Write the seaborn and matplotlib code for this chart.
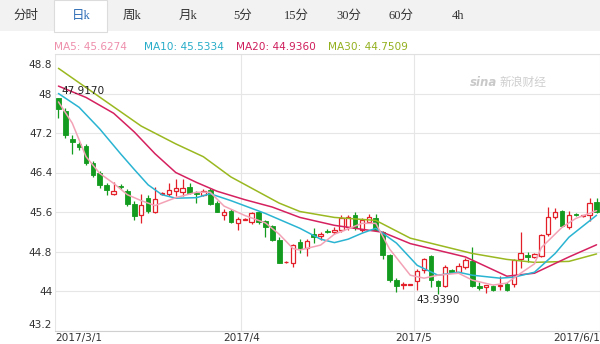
import numpy as np
import pandas as pd
import matplotlib
matplotlib.use("Agg")
import matplotlib.pyplot as plt
import seaborn as sns
from matplotlib.patches import Rectangle
from matplotlib.transforms import ScaledTranslation

# Trading days: Mon-Sat from 2017-03-01 to 2017-05-31
dates = [d for d in pd.date_range("2017-03-01", "2017-05-31") if d.weekday() != 6]

opens = [47.90, 47.65, 47.08, 46.98, 46.94, 46.60, 46.38, 46.14, 45.97, 46.13,
         46.03, 45.77, 45.53, 45.89, 45.59, 45.96, 45.96, 46.03, 46.01, 46.11,
         45.99, 45.95, 46.05, 45.79, 45.53, 45.63, 45.37, 45.44, 45.39, 45.59,
         45.41, 45.31, 45.04, 44.58, 44.56, 44.99, 44.88, 45.16, 45.11, 45.22,
         45.19, 45.23, 45.29, 45.53, 45.24, 45.39, 45.48, 45.19, 44.72, 44.23,
         44.12, 44.13, 44.21, 44.42, 44.70, 44.20, 44.10, 44.42, 44.39, 44.49,
         44.60, 44.10, 44.08, 44.10, 44.11, 44.15, 44.15, 44.64, 44.72, 44.69,
         44.70, 45.16, 45.50, 45.63, 45.29, 45.56, 45.52, 45.53, 45.80]
highs = [47.917, 47.71, 47.16, 47.02, 46.98, 46.64, 46.44, 46.18, 46.21, 46.16,
         46.07, 45.83, 45.97, 45.95, 46.11, 46.00, 46.19, 46.26, 46.26, 46.19,
         46.03, 46.07, 46.09, 45.83, 45.67, 45.67, 45.49, 45.47, 45.61, 45.63,
         45.43, 45.33, 45.09, 44.60, 44.95, 45.05, 45.06, 45.27, 45.19, 45.25,
         45.29, 45.53, 45.53, 45.59, 45.47, 45.55, 45.55, 45.21, 44.74, 44.27,
         44.19, 44.15, 44.44, 44.66, 44.72, 44.22, 44.52, 44.44, 44.56, 44.66,
         44.89, 44.19, 44.12, 44.12, 44.30, 44.19, 44.64, 45.19, 44.79, 44.76,
         45.15, 45.70, 45.69, 45.65, 45.63, 45.58, 45.54, 45.88, 45.88]
lows = [47.51, 47.10, 46.78, 46.86, 46.56, 46.30, 46.08, 45.95, 45.95, 46.06,
        45.73, 45.43, 45.37, 45.57, 45.57, 45.94, 45.93, 45.93, 45.93, 45.97,
        45.79, 45.93, 45.75, 45.59, 45.43, 45.37, 45.23, 45.43, 45.35, 45.35,
        45.09, 45.01, 44.56, 44.56, 44.48, 44.76, 44.70, 44.97, 45.03, 45.17,
        45.16, 45.19, 45.23, 45.23, 45.19, 45.37, 45.21, 44.64, 44.19, 43.98,
        44.05, 44.12, 44.03, 44.37, 44.08, 43.939, 44.08, 44.37, 44.36, 44.44,
        44.08, 44.02, 43.96, 44.01, 44.03, 44.00, 44.08, 44.46, 44.59, 44.67,
        44.68, 45.11, 45.46, 45.29, 45.26, 45.51, 45.50, 45.42, 45.57]
closes = [47.69, 47.16, 47.02, 46.92, 46.60, 46.34, 46.14, 46.04, 46.03, 46.10,
          45.77, 45.51, 45.75, 45.63, 45.87, 45.98, 46.05, 46.09, 46.09, 45.99,
          45.97, 46.03, 45.77, 45.61, 45.61, 45.39, 45.45, 45.46, 45.57, 45.39,
          45.29, 45.03, 44.56, 44.59, 44.93, 44.87, 45.02, 45.10, 45.15, 45.19,
          45.23, 45.48, 45.50, 45.28, 45.43, 45.50, 45.23, 44.72, 44.22, 44.10,
          44.15, 44.14, 44.41, 44.64, 44.23, 44.10, 44.48, 44.39, 44.50, 44.62,
          44.10, 44.06, 44.12, 44.03, 44.13, 44.02, 44.62, 44.76, 44.68, 44.74,
          45.13, 45.50, 45.60, 45.31, 45.54, 45.53, 45.53, 45.78, 45.60]

# Moving averages, read at selected trading-day positions
ma5_idx = [0, 2, 4, 6, 8, 10, 12, 14, 17, 20, 22, 24, 27, 30, 32, 34, 35, 38, 40,
           44, 46, 48, 51, 53, 55, 58, 60, 63, 65, 67, 69, 70, 73, 75, 78]
ma5_val = [47.83, 47.40, 46.72, 46.38, 46.18, 45.95, 45.83, 45.73, 45.89, 46.00,
           46.00, 45.72, 45.53, 45.38, 45.15, 44.86, 44.83, 44.93, 45.15, 45.37,
           45.37, 44.85, 44.32, 44.26, 44.32, 44.36, 44.22, 44.12, 44.16, 44.36,
           44.55, 44.88, 45.29, 45.47, 45.6274]
ma10_idx = [0, 3, 6, 9, 11, 13, 15, 17, 20, 22, 25, 30, 35, 38, 40, 42, 44, 46, 49,
            52, 55, 58, 60, 64, 66, 69, 72, 74, 78]
ma10_val = [48.00, 47.72, 47.28, 46.78, 46.46, 46.15, 45.95, 45.88, 45.89, 45.97,
            45.83, 45.57, 45.27, 45.05, 44.98, 45.05, 45.17, 45.27, 44.97, 44.52,
            44.32, 44.38, 44.32, 44.26, 44.28, 44.38, 44.76, 45.09, 45.5334]
ma20_idx = [0, 4, 8, 11, 14, 17, 20, 23, 27, 31, 35, 40, 47, 51, 59, 65, 69, 74, 78]
ma20_val = [48.15, 47.92, 47.60, 47.22, 46.78, 46.40, 46.20, 46.02, 45.85, 45.70,
            45.49, 45.33, 45.19, 44.96, 44.69, 44.30, 44.36, 44.69, 44.9360]
ma30_idx = [0, 12, 17, 21, 25, 32, 35, 40, 46, 51, 60, 65, 69, 74, 78]
ma30_val = [48.51, 47.34, 46.98, 46.72, 46.31, 45.78, 45.61, 45.49, 45.43, 45.07,
            44.76, 44.64, 44.58, 44.60, 44.7509]

y_ticks = [43.2, 44, 44.8, 45.6, 46.4, 47.2, 48, 48.8]
tabs = ["分时", "日k", "周k", "月k", "5分", "15分", "30分", "60分", "4h"]
tab_x = [26, 81, 132, 188, 243, 296, 349, 401, 458]

ma_colors = {"MA5": "#f3a2b6", "MA10": "#2ab4d2", "MA20": "#d5215f", "MA30": "#9ab820"}
ma_text_colors = {"MA5": "#ee8fac", "MA10": "#26acc8", "MA20": "#cf1e5c", "MA30": "#93b01e"}
UP, DOWN = "#e3202a", "#139b1f"

sns.set_theme(style="white")
plt.rcParams["font.family"] = ["DejaVu Sans", "Noto Sans CJK SC"]

W, H = 600, 344
fig = plt.figure(figsize=(W / 100, H / 100), dpi=100)
fig.patch.set_facecolor("white")

# Tab bar
fig.patches.append(Rectangle((0, 1 - 31 / H), 1, 31 / H, transform=fig.transFigure,
                             facecolor="#f2f2f2", edgecolor="none", zorder=0))
fig.patches.append(Rectangle((54 / W, 1 - 32 / H), 53 / W, 32 / H, transform=fig.transFigure,
                             facecolor="white", edgecolor="#dcdcdc", lw=0.8, zorder=1))
for name, x in zip(tabs, tab_x):
    fig.text(x / W, 1 - 16 / H, name, ha="center", va="center", fontsize=9,
             color="#2d6cb5" if name == "日k" else "#333333",
             family=["Liberation Serif", "Noto Sans CJK SC"])

ax = fig.add_axes([55 / W, 1 - 330.5 / H, 545 / W, (330.5 - 54) / H])
ax.set_facecolor("white")

x = np.arange(len(dates))
o, hi, lo, c = map(np.asarray, (opens, highs, lows, closes))
up = c >= o
colors = np.where(up, UP, DOWN)

# Wicks, then bodies (up candles hollow)
ax.vlines(x, lo, hi, colors=colors, lw=0.9, zorder=3)
body_lo = np.minimum(o, c)
body_h = np.maximum(np.abs(c - o), 0.012)
ax.bar(x[~up], body_h[~up], bottom=body_lo[~up], width=0.68, color=DOWN,
       edgecolor=DOWN, lw=0.6, zorder=4)
ax.bar(x[up], body_h[up], bottom=body_lo[up], width=0.64, color="white",
       edgecolor=UP, lw=0.9, zorder=4)

# Moving-average lines
ma_frames = []
for name, idx, val in [("MA30", ma30_idx, ma30_val), ("MA20", ma20_idx, ma20_val),
                       ("MA10", ma10_idx, ma10_val), ("MA5", ma5_idx, ma5_val)]:
    ma_frames.append(pd.DataFrame({"day": idx, "value": val, "ma": name}))
ma_df = pd.concat(ma_frames, ignore_index=True)
sns.lineplot(data=ma_df, x="day", y="value", hue="ma", palette=ma_colors,
             hue_order=["MA30", "MA20", "MA10", "MA5"], lw=1.1, legend=False,
             ax=ax, zorder=5, sort=False)

ax.set_xlim(-0.5, len(dates) - 0.5)
ax.set_ylim(43.2, 48.8)

# Month boundaries
month_start = [0] + [i for i in range(1, len(dates)) if dates[i].month != dates[i - 1].month]
tick_pos = [i - 0.5 for i in month_start] + [len(dates) - 0.5]
tick_lab = ["2017/3/1", "2017/4", "2017/5", "2017/6/1"]
ax.set_xticks(tick_pos)
ax.set_xticklabels(tick_lab)
ax.set_yticks(y_ticks)
ax.set_yticklabels([f"{v:g}" for v in y_ticks])
ax.set_xlabel("")
ax.set_ylabel("")
ax.tick_params(axis="both", length=0, labelsize=7.6, labelcolor="#333333", pad=2)
ax.grid(True, color="#e6e6e6", lw=0.8, zorder=0)
for side in ["left", "right"]:
    ax.spines[side].set_visible(False)
ax.spines["top"].set_color("#e0e0e0")
ax.spines["bottom"].set_color("#d0d0d0")
ax.spines["top"].set_linewidth(0.8)
ax.spines["bottom"].set_linewidth(0.8)

xl = ax.get_xticklabels()
xl[0].set_ha("left")
xl[-1].set_ha("right")
yl = ax.get_yticklabels()
yl[0].set_transform(yl[0].get_transform() + ScaledTranslation(0, 7 / 100, fig.dpi_scale_trans))
yl[-1].set_transform(yl[-1].get_transform() + ScaledTranslation(0, -9.5 / 100, fig.dpi_scale_trans))

# High / low annotations
i_max = int(np.argmax(hi))
i_min = int(np.argmin(lo))
ax.text(i_max + 0.5, hi[i_max] + 0.14, f"{hi[i_max]:.4f}", ha="left", va="center",
        fontsize=7.6, color="#222222", zorder=6)
ax.text(i_min, lo[i_min] - 0.12, f"{lo[i_min]:.4f}", ha="center", va="center",
        fontsize=7.6, color="#222222", zorder=6)

# MA legend row
leg_x = [54, 144, 236, 328]
for (name, idx, val), lx in zip([("MA5", ma5_idx, ma5_val), ("MA10", ma10_idx, ma10_val),
                                 ("MA20", ma20_idx, ma20_val), ("MA30", ma30_idx, ma30_val)], leg_x):
    fig.text(lx / W, 1 - 47 / H, f"{name}: {val[-1]:.4f}", ha="left", va="center",
             fontsize=7.6, color=ma_text_colors[name])

# Watermark
fig.text(470 / W, 1 - 82 / H, "sina", ha="left", va="center", fontsize=8.5,
         style="italic", weight="bold", color="#c9c9c9")
fig.text(500 / W, 1 - 82 / H, "新浪财经", ha="left", va="center", fontsize=8.5,
         style="italic", color="#cfcfcf", family=["Noto Sans CJK SC"])

fig.savefig("out.png", dpi=100, facecolor="white")
